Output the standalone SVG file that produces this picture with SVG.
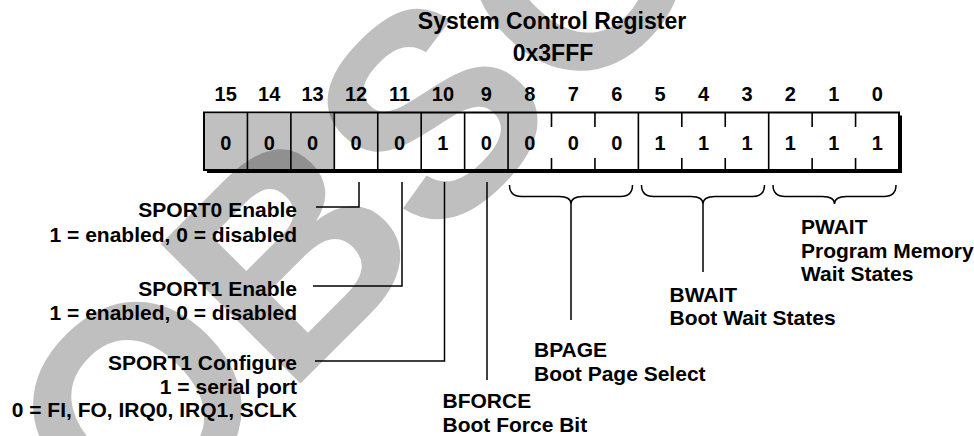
<svg xmlns="http://www.w3.org/2000/svg" width="974" height="436" viewBox="0 0 974 436">
<style>
text{font-family:"Liberation Sans",Arial,Helvetica,sans-serif;font-weight:bold;fill:#000}
.t{font-size:23px;text-anchor:middle}
.n{font-size:20px;text-anchor:middle}
.l{font-size:21px}
.r{text-anchor:end}
.ln{fill:none;stroke:#000;stroke-width:1.5}
.cell{stroke:#000;stroke-width:1.6;fill:none}
.wm{font-size:287px;fill:#000;fill-opacity:0.25}
</style>
<rect width="974" height="436" fill="#fff"/>
<g id="title">
<text class="t" x="552" y="29">System Control Register</text>
<text class="t" x="553" y="61">0x3FFF</text>
</g>
<g id="bit-numbers">
<text class="n" x="225.7" y="101">15</text>
<text class="n" x="269.2" y="101">14</text>
<text class="n" x="312.6" y="101">13</text>
<text class="n" x="356.0" y="101">12</text>
<text class="n" x="399.5" y="101">11</text>
<text class="n" x="442.9" y="101">10</text>
<text class="n" x="486.3" y="101">9</text>
<text class="n" x="529.8" y="101">8</text>
<text class="n" x="573.2" y="101">7</text>
<text class="n" x="616.7" y="101">6</text>
<text class="n" x="660.1" y="101">5</text>
<text class="n" x="703.5" y="101">4</text>
<text class="n" x="747.0" y="101">3</text>
<text class="n" x="790.4" y="101">2</text>
<text class="n" x="833.8" y="101">1</text>
<text class="n" x="877.3" y="101">0</text>
</g>
<g id="register">
<rect x="207" y="115.5" width="695" height="57.5" fill="#000"/>
<rect x="204" y="112.5" width="695" height="57.5" fill="#fff" stroke="#000" stroke-width="2"/>
<rect x="205" y="113.5" width="129.3" height="55.5" fill="#c0c0c0"/>
<path class="cell" d="M247.44,112.5V170M290.88,112.5V170M334.31,112.5V170M377.75,112.5V170M421.19,112.5V170M464.63,112.5V170M508.06,112.5V170M638.38,112.5V170M768.69,112.5V170"/>
<path class="cell" d="M551.5,112.5V127M551.5,158V170M594.94,112.5V127M594.94,158V170M681.81,112.5V127M681.81,158V170M725.25,112.5V127M725.25,158V170M812.13,112.5V127M812.13,158V170M855.56,112.5V127M855.56,158V170"/>
<text class="n" x="225.7" y="150">0</text>
<text class="n" x="269.2" y="150">0</text>
<text class="n" x="312.6" y="150">0</text>
<text class="n" x="356.0" y="150">0</text>
<text class="n" x="399.5" y="150">0</text>
<text class="n" x="442.9" y="150">1</text>
<text class="n" x="486.3" y="150">0</text>
<text class="n" x="529.8" y="150">0</text>
<text class="n" x="573.2" y="150">0</text>
<text class="n" x="616.7" y="150">0</text>
<text class="n" x="660.1" y="150">1</text>
<text class="n" x="703.5" y="150">1</text>
<text class="n" x="747.0" y="150">1</text>
<text class="n" x="790.4" y="150">1</text>
<text class="n" x="833.8" y="150">1</text>
<text class="n" x="877.3" y="150">1</text>
</g>
<g id="connectors">
<path class="ln" d="M359,182V207H316"/>
<path class="ln" d="M402,182V286H313"/>
<path class="ln" d="M444.5,182V361H315"/>
<path class="ln" d="M487,182V380"/>
<path class="ln" d="M509.5,185Q509.5,196.5 521.5,196.5H559Q571,196.5 571,204Q571,196.5 583,196.5H620.5Q632.5,196.5 632.5,185M571,204V320"/>
<path class="ln" d="M641.5,185Q641.5,196.5 653.5,196.5H691Q703,196.5 703,204Q703,196.5 715,196.5H752.5Q764.5,196.5 764.5,185M703,204V272"/>
<path class="ln" d="M773,185Q773,196.5 785,196.5H822.5Q834.5,196.5 834.5,204Q834.5,196.5 846.5,196.5H884Q896,196.5 896,185"/>
</g>
<g id="label-sport0">
<text class="l r" x="297" y="217">SPORT0 Enable</text>
<text class="l r" x="297" y="242">1 = enabled, 0 = disabled</text>
</g>
<g id="label-sport1-enable">
<text class="l r" x="297" y="296">SPORT1 Enable</text>
<text class="l r" x="297" y="319.5">1 = enabled, 0 = disabled</text>
</g>
<g id="label-sport1-config">
<text class="l r" x="297" y="370">SPORT1 Configure</text>
<text class="l r" x="297" y="393.5">1 = serial port</text>
<text class="l r" x="297" y="417">0 = FI, FO, IRQ0, IRQ1, SCLK</text>
</g>
<g id="label-bforce">
<text class="l" x="442.5" y="408">BFORCE</text>
<text class="l" x="442.5" y="431.5">Boot Force Bit</text>
</g>
<g id="label-bpage">
<text class="l" x="534" y="357">BPAGE</text>
<text class="l" x="534" y="380.5">Boot Page Select</text>
</g>
<g id="label-bwait">
<text class="l" x="669.5" y="301.5">BWAIT</text>
<text class="l" x="669.5" y="325">Boot Wait States</text>
</g>
<g id="label-pwait">
<text class="l" x="801" y="234">PWAIT</text>
<text class="l" x="801" y="257.5">Program Memory</text>
<text class="l" x="801" y="281">Wait States</text>
</g>
<g id="watermark">
<text class="wm" transform="translate(129,555) rotate(-45)">OBSOLETE</text>
</g>
</svg>
